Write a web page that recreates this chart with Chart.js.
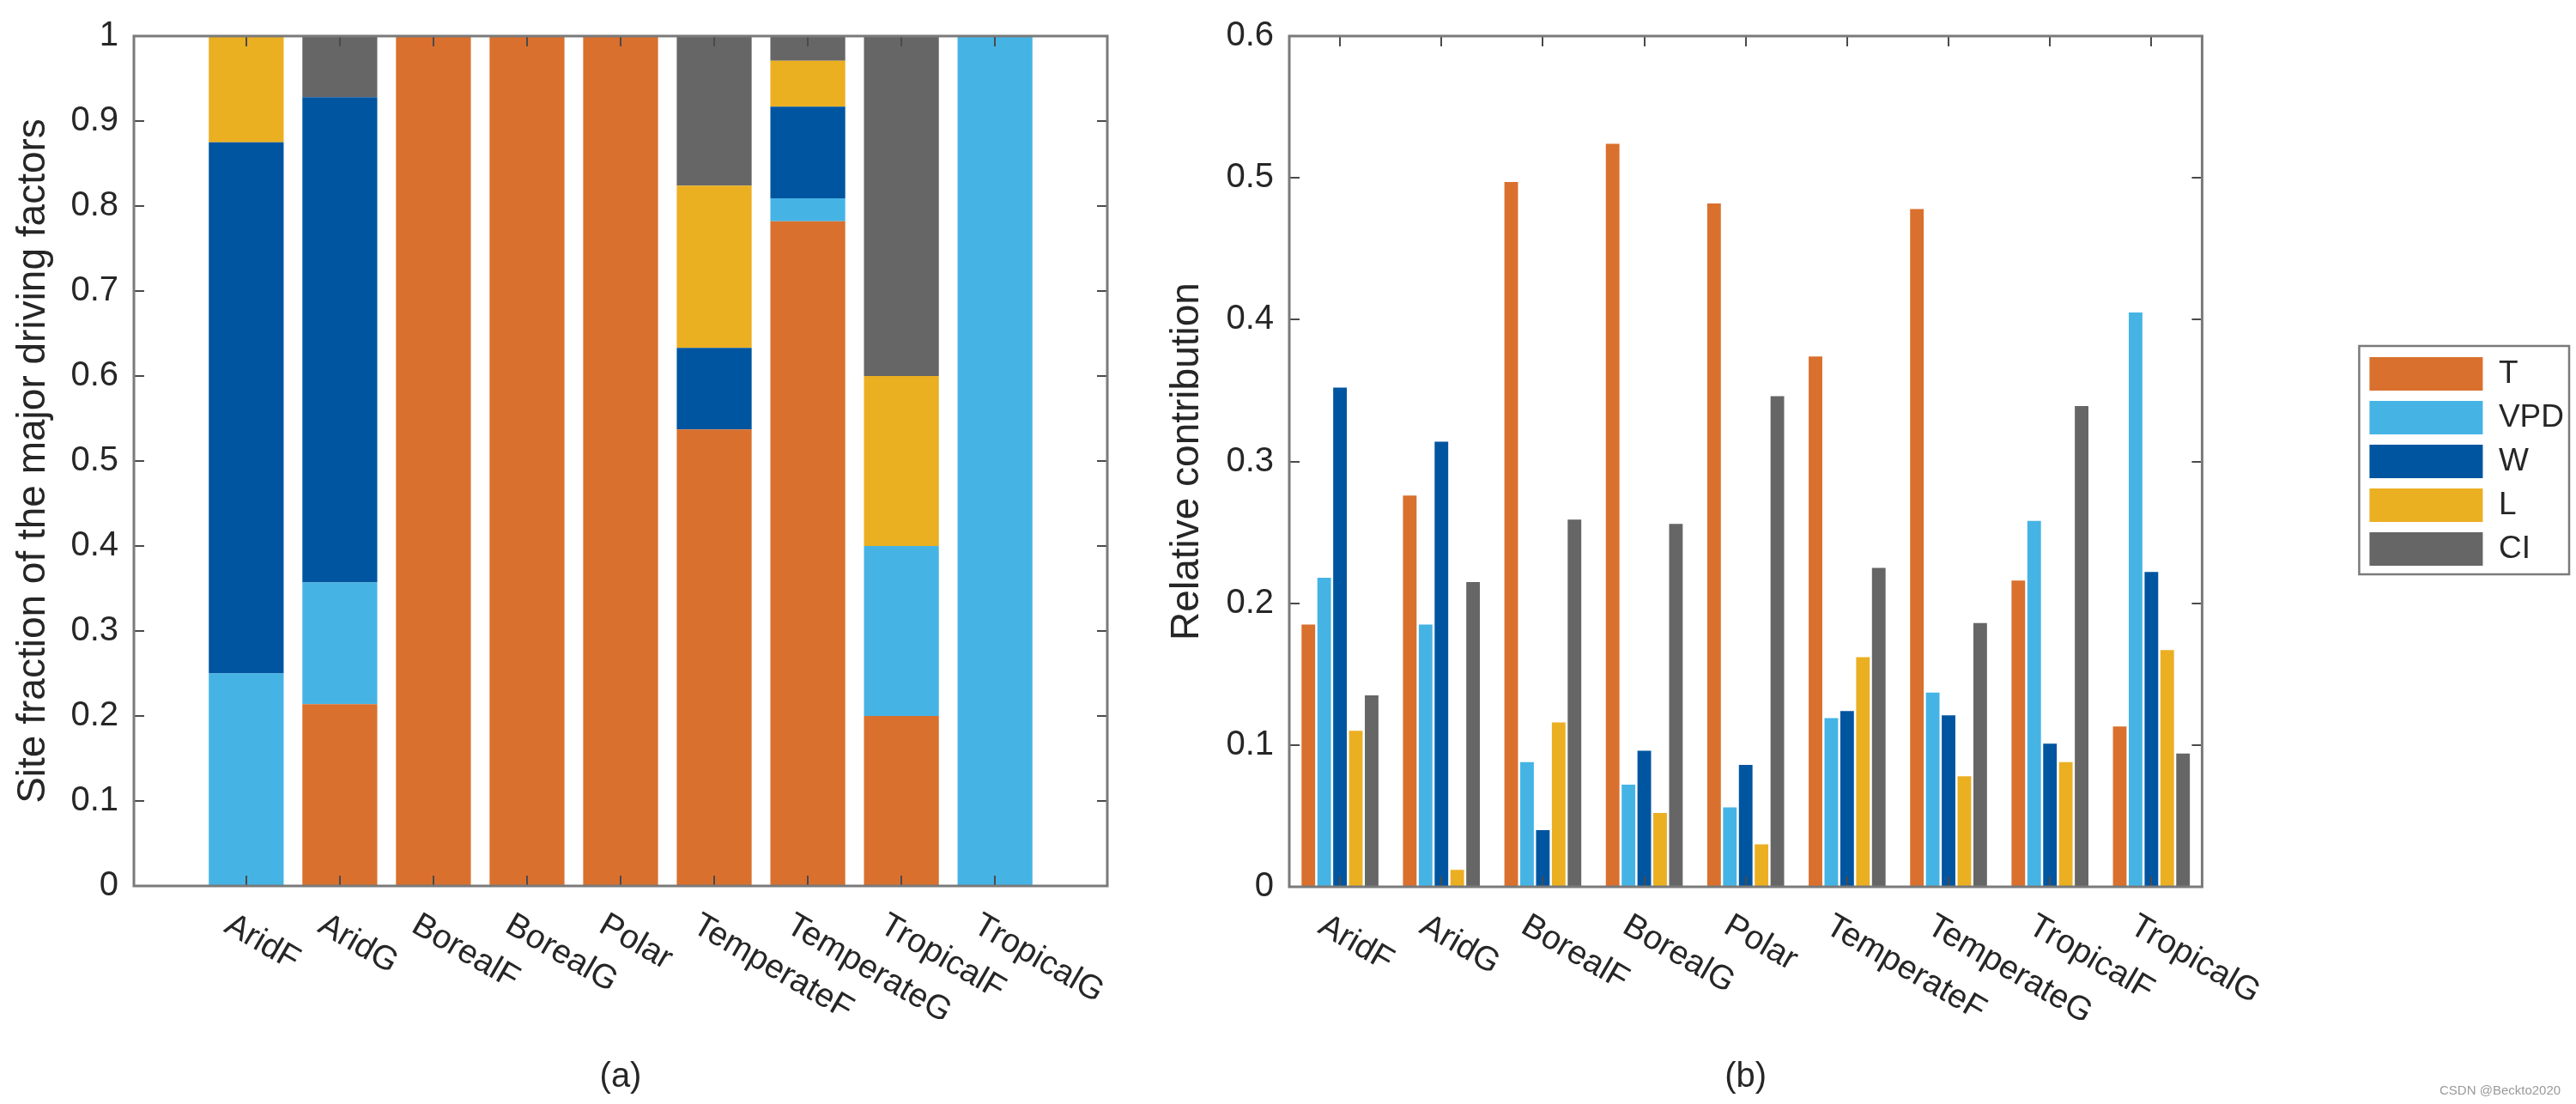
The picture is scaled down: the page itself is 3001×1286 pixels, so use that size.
<!DOCTYPE html>
<html><head><meta charset="utf-8">
<script src="https://cdn.jsdelivr.net/npm/chart.js@4.4.0/dist/chart.umd.min.js"></script>
<style>
html,body{margin:0;padding:0;background:#fff;width:3001px;height:1286px;overflow:hidden;position:relative;}
canvas{position:absolute;top:0;}
#ca{left:0;}
#cb{left:1320px;}
#wm{position:absolute;left:2842px;top:1261px;font:15px "Liberation Sans",Arial,sans-serif;color:#9a9a9a;white-space:nowrap;}
</style></head><body>
<canvas id="ca" width="1320" height="1286"></canvas>
<canvas id="cb" width="1700" height="1286"></canvas>
<div id="wm">CSDN @Beckto2020</div>
<script>
// ---------- data ----------
const categories = ['AridF','AridG','BorealF','BorealG','Polar','TemperateF','TemperateG','TropicalF','TropicalG'];
const factors = ['T','VPD','W','L','CI'];
const factorColors = ['#D9702E','#45B4E5','#0055A0','#EBAF22','#666666'];

// (a) site fraction of the major driving factors (stacked)
const fracT   = [0,     0.214, 1, 1, 1, 0.537, 0.782, 0.2, 0];
const fracVPD = [0.25,  0.143, 0, 0, 0, 0,     0.027, 0.2, 1];
const fracW   = [0.625, 0.571, 0, 0, 0, 0.096, 0.108, 0,   0];
const fracL   = [0.125, 0,     0, 0, 0, 0.191, 0.054, 0.2, 0];
const fracCI  = [0,     0.072, 0, 0, 0, 0.176, 0.029, 0.4, 0];

// (b) relative contribution (grouped)
const relT   = [0.185, 0.276, 0.497, 0.524, 0.482, 0.374, 0.478, 0.216, 0.113];
const relVPD = [0.218, 0.185, 0.088, 0.072, 0.056, 0.119, 0.137, 0.258, 0.405];
const relW   = [0.352, 0.314, 0.040, 0.096, 0.086, 0.124, 0.121, 0.101, 0.222];
const relL   = [0.110, 0.012, 0.116, 0.052, 0.030, 0.162, 0.078, 0.088, 0.167];
const relCI  = [0.135, 0.215, 0.259, 0.256, 0.346, 0.225, 0.186, 0.339, 0.094];

const yTicksA = [0, 0.1, 0.2, 0.3, 0.4, 0.5, 0.6, 0.7, 0.8, 0.9, 1];
const yTickLabelsA = ['0', '0.1', '0.2', '0.3', '0.4', '0.5', '0.6', '0.7', '0.8', '0.9', '1'];
const yTicksB = [0, 0.1, 0.2, 0.3, 0.4, 0.5, 0.6];
const yTickLabelsB = ['0', '0.1', '0.2', '0.3', '0.4', '0.5', '0.6'];
const titleA = 'Site fraction of the major driving factors';
const titleB = 'Relative contribution';
const captionA = '(a)';
const captionB = '(b)';

// ---------- helpers ----------
const FONT = '"Liberation Sans", Arial, Helvetica, sans-serif';
Chart.defaults.font.family = FONT;
Chart.defaults.color = '#262626';

function toPoints(arr) { return arr.map((v, i) => ({x: i + 1, y: v})); }
function catTicks(scale) { scale.ticks = categories.map((c, i) => ({value: i + 1})); }

const framePlugin = {
  id: 'matlabFrame',
  afterDatasetsDraw(chart) {
    const {ctx, chartArea: a} = chart;
    const x = chart.scales.x, y = chart.scales.y;
    const TL = 12;
    ctx.save();
    ctx.strokeStyle = '#4a4a4a';
    ctx.lineWidth = 2;
    ctx.beginPath();
    x.ticks.forEach(t => {
      const px = Math.round(x.getPixelForValue(t.value));
      ctx.moveTo(px, a.bottom); ctx.lineTo(px, a.bottom - TL);
      ctx.moveTo(px, a.top); ctx.lineTo(px, a.top + TL);
    });
    y.ticks.forEach(t => {
      const py = Math.round(y.getPixelForValue(t.value));
      ctx.moveTo(a.left, py); ctx.lineTo(a.left + TL, py);
      ctx.moveTo(a.right, py); ctx.lineTo(a.right - TL, py);
    });
    ctx.stroke();
    ctx.strokeStyle = '#7a7a7a';
    ctx.lineWidth = 3;
    ctx.strokeRect(a.left, a.top, a.right - a.left, a.bottom - a.top);
    // rotated category labels
    ctx.fillStyle = '#262626';
    ctx.font = '39px ' + FONT;
    ctx.textAlign = 'left';
    ctx.textBaseline = 'middle';
    x.ticks.forEach(t => {
      const px = x.getPixelForValue(t.value);
      ctx.save();
      ctx.translate(px - 22, a.bottom + 43);
      ctx.rotate(Math.PI / 6);
      ctx.fillText(categories[t.value - 1], 0, 0);
      ctx.restore();
    });
    ctx.restore();
  }
};

const legendBoxPlugin = {
  id: 'legendBox',
  afterDraw(chart) {
    const lg = chart.legend;
    if (!lg || !lg.legendHitBoxes || !lg.legendHitBoxes.length) return;
    const hb = lg.legendHitBoxes;
    const ctx = chart.ctx;
    const lab = lg.options.labels;
    const fs = lab.font.size;
    ctx.save();
    ctx.font = fs + 'px ' + FONT;
    let maxText = 0;
    lg.legendItems.forEach(it => { maxText = Math.max(maxText, ctx.measureText(it.text).width); });
    const top = hb[0].top - 13;
    const last = hb[hb.length - 1];
    const bottom = last.top + last.height + 10;
    const right = lg.left + lab.padding + lab.boxWidth + fs / 2 + maxText + 6;
    ctx.strokeStyle = '#7a7a7a';
    ctx.lineWidth = 2.5;
    ctx.strokeRect(lg.left, top, right - lg.left, bottom - top);
    ctx.restore();
  }
};

function yScale(ticksArr, labelsArr, maxV, width, title, titlePad) {
  return {
    min: 0, max: maxV,
    stacked: true,
    afterBuildTicks(s) { s.ticks = ticksArr.map(v => ({value: v})); },
    afterFit(s) { s.width = width; },
    grid: {display: false, drawTicks: false},
    border: {display: false},
    ticks: {font: {size: 40}, color: '#262626', padding: 18, callback: (v, i) => labelsArr[i]},
    title: {display: true, text: title, font: {size: 46}, color: '#262626', padding: {top: titlePad, bottom: 0}}
  };
}

function xScale(minV, maxV, stacked, caption, height) {
  return {
    type: 'linear', min: minV, max: maxV, offset: false, stacked: stacked,
    afterBuildTicks: catTicks,
    afterFit(s) { s.height = height; },
    grid: {display: false, drawTicks: false},
    border: {display: false},
    ticks: {display: false},
    title: {display: true, text: caption, font: {size: 40}, color: '#262626', padding: {top: 0, bottom: 7}}
  };
}

// ---------- chart (a) ----------
const fracSeries = [fracT, fracVPD, fracW, fracL, fracCI];
new Chart(document.getElementById('ca'), {
  type: 'bar',
  data: {
    datasets: factors.map((f, k) => ({
      label: f,
      data: toPoints(fracSeries[k]),
      backgroundColor: factorColors[k],
      borderWidth: 0,
      categoryPercentage: 0.8,
      barPercentage: 1.0
    }))
  },
  options: {
    responsive: false,
    animation: false,
    devicePixelRatio: 1,
    layout: {padding: {top: 33, right: 30, bottom: 0, left: 0}},
    plugins: {legend: {display: false}, tooltip: {enabled: false}},
    scales: {
      x: xScale(-0.2, 10.2, true, captionA, 254),
      y: yScale(yTicksA, yTickLabelsA, 1, 156, titleA, 12)
    }
  },
  plugins: [framePlugin]
});

// ---------- chart (b) ----------
const relSeries = [relT, relVPD, relW, relL, relCI];
const yB = yScale(yTicksB, yTickLabelsB, 0.6, 182, titleB, 36);
yB.stacked = false;
new Chart(document.getElementById('cb'), {
  type: 'bar',
  data: {
    datasets: factors.map((f, k) => ({
      label: f,
      data: toPoints(relSeries[k]),
      backgroundColor: factorColors[k],
      borderWidth: 0,
      categoryPercentage: 0.78,
      barPercentage: 0.86
    }))
  },
  options: {
    responsive: false,
    animation: false,
    devicePixelRatio: 1,
    layout: {padding: {top: 27, right: 23, bottom: 0, left: 0}},
    plugins: {
      legend: {
        display: true, position: 'right', fullSize: false, align: 'center',
        labels: {boxWidth: 132, boxHeight: 39, padding: 12, color: '#262626', font: {size: 37}}
      },
      tooltip: {enabled: false}
    },
    scales: {
      x: xScale(0.5, 9.5, false, captionB, 253),
      y: yB,
      y2: {
        position: 'right', display: true,
        afterFit(s) { s.width = 183; },
        grid: {display: false, drawTicks: false},
        border: {display: false},
        ticks: {display: false}
      }
    }
  },
  plugins: [framePlugin, legendBoxPlugin]
});
</script>
</body></html>
